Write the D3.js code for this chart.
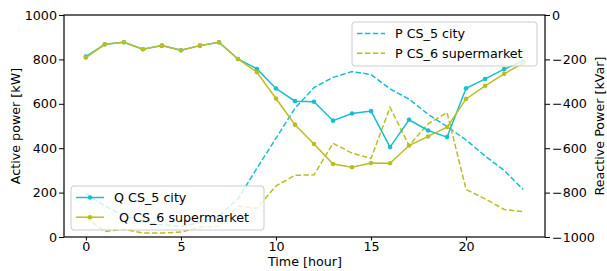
<!DOCTYPE html>
<html>
<head>
<meta charset="utf-8">
<script src="https://cdn.jsdelivr.net/npm/d3@7"></script>
<style>
  body { margin: 0; background: #fff; }
  svg { display: block; font-family: "DejaVu Sans", sans-serif; }
</style>
</head>
<body>
<script>
// hours of the day
const hours = d3.range(0, 24);

// active power [kW] (dashed, left axis)
const pCity = [196, 140, 95, 68, 55, 48, 65, 95, 172, 310, 445, 580, 673, 719, 745, 732, 667, 621, 553, 497, 437, 365, 300, 214];
const pSuper = [87, 25, 35, 18, 18, 22, 45, 48, 138, 130, 230, 278, 280, 422, 378, 354, 584, 412, 510, 560, 214, 172, 124, 114];

// reactive power [kVar] (solid with dots, right axis)
const qCity = [-187, -132, -123, -154, -138, -159, -138, -123, -198, -243, -331, -388, -391, -476, -444, -433, -595, -472, -520, -550, -330, -288, -244, -208];
const qSuper = [-192, -132, -123, -154, -138, -159, -138, -123, -198, -258, -376, -494, -581, -671, -686, -667, -668, -588, -547, -505, -378, -319, -265, -217];

const xTicks = [0, 5, 10, 15, 20];
const leftTicks = [0, 200, 400, 600, 800, 1000];
const rightTicks = [0, -200, -400, -600, -800, -1000];

const cyan = "#17becf", olive = "#bcbd22";

const W = 607, H = 271;
const m = { left: 64, right: 545, top: 15, bottom: 237 };

const svg = d3.select("body").append("svg")
  .attr("width", W).attr("height", H);

const x = d3.scaleLinear().domain([-1.15, 24.15]).range([m.left, m.right]);
const yL = d3.scaleLinear().domain([0, 1000]).range([m.bottom, m.top]);
const yR = d3.scaleLinear().domain([-1000, 0]).range([m.bottom, m.top]);

// lines
const lineL = d3.line().x((d, i) => x(hours[i])).y(d => yL(d));
const lineR = d3.line().x((d, i) => x(hours[i])).y(d => yR(d));

const plot = svg.append("g");

[[pCity, cyan], [pSuper, olive]].forEach(([data, c]) => {
  plot.append("path")
    .attr("d", lineL(data))
    .attr("fill", "none")
    .attr("stroke", c)
    .attr("stroke-width", 1.5)
    .attr("stroke-dasharray", "5.5,2.4");
});

[[qCity, cyan], [qSuper, olive]].forEach(([data, c]) => {
  plot.append("path")
    .attr("d", lineR(data))
    .attr("fill", "none")
    .attr("stroke", c)
    .attr("stroke-width", 1.5);
  plot.selectAll(null)
    .data(data).enter()
    .append("circle")
    .attr("cx", (d, i) => x(hours[i]))
    .attr("cy", d => yR(d))
    .attr("r", 2.3)
    .attr("fill", c);
});

// axes
const fs = "12.7px";
const fmt = d3.format("d");
const gx = svg.append("g")
  .attr("transform", `translate(0,${m.bottom})`)
  .call(d3.axisBottom(x).tickValues(xTicks).tickFormat(fmt).tickSize(3.5).tickPadding(1.5));
const gl = svg.append("g")
  .attr("transform", `translate(${m.left},0)`)
  .call(d3.axisLeft(yL).tickValues(leftTicks).tickFormat(fmt).tickSize(5).tickPadding(2));
const gr = svg.append("g")
  .attr("transform", `translate(${m.right},0)`)
  .call(d3.axisRight(yR).tickValues(rightTicks).tickFormat(fmt).tickSize(5).tickPadding(2));

[gx, gl, gr].forEach(g => {
  g.select(".domain").remove();
  g.selectAll("text").attr("font-size", fs).attr("font-family", "DejaVu Sans").attr("fill", "#000");
  g.selectAll("line").attr("stroke", "#000").attr("stroke-width", 1);
});

// frame
svg.append("rect")
  .attr("x", m.left).attr("y", m.top)
  .attr("width", m.right - m.left).attr("height", m.bottom - m.top)
  .attr("fill", "none").attr("stroke", "#000").attr("stroke-width", 1.2);

// axis titles
svg.append("text")
  .attr("x", 305).attr("y", 266)
  .attr("text-anchor", "middle").attr("font-size", fs)
  .text("Time [hour]");
svg.append("text")
  .attr("transform", `translate(20,${(m.top + m.bottom) / 2}) rotate(-90)`)
  .attr("text-anchor", "middle").attr("font-size", fs)
  .text("Active power [kW]");
svg.append("text")
  .attr("transform", `translate(604,${(m.top + m.bottom) / 2}) rotate(-90)`)
  .attr("text-anchor", "middle").attr("font-size", fs)
  .text("Reactive Power [kVar]");

// legends
function legend(x0, y0, w, h, items) {
  const g = svg.append("g").attr("transform", `translate(${x0},${y0})`);
  g.append("rect")
    .attr("width", w).attr("height", h).attr("rx", 3)
    .attr("fill", "#fff").attr("fill-opacity", 0.8)
    .attr("stroke", "#ccc").attr("stroke-width", 1);
  items.forEach((it, i) => {
    const yy = 11.5 + i * 19.7;
    g.append("line")
      .attr("x1", 5).attr("x2", 33).attr("y1", yy).attr("y2", yy)
      .attr("stroke", it.color).attr("stroke-width", 1.5)
      .attr("stroke-dasharray", it.dash ? "5.5,2.4" : null);
    if (it.dot) {
      g.append("circle").attr("cx", 19).attr("cy", yy).attr("r", 2.3).attr("fill", it.color);
    }
    g.append("text")
      .attr("x", 43 + (it.dx || 0)).attr("y", yy).attr("dy", "0.35em")
      .attr("font-size", fs).text(it.label);
  });
}

legend(71, 186, 193, 44, [
  { label: "Q CS_5 city", color: cyan, dot: true },
  { label: "Q CS_6 supermarket", color: olive, dot: true, dx: 5 }
]);
legend(352, 22, 185, 44, [
  { label: "P CS_5 city", color: cyan, dash: true },
  { label: "P CS_6 supermarket", color: olive, dash: true }
]);
</script>
</body>
</html>
